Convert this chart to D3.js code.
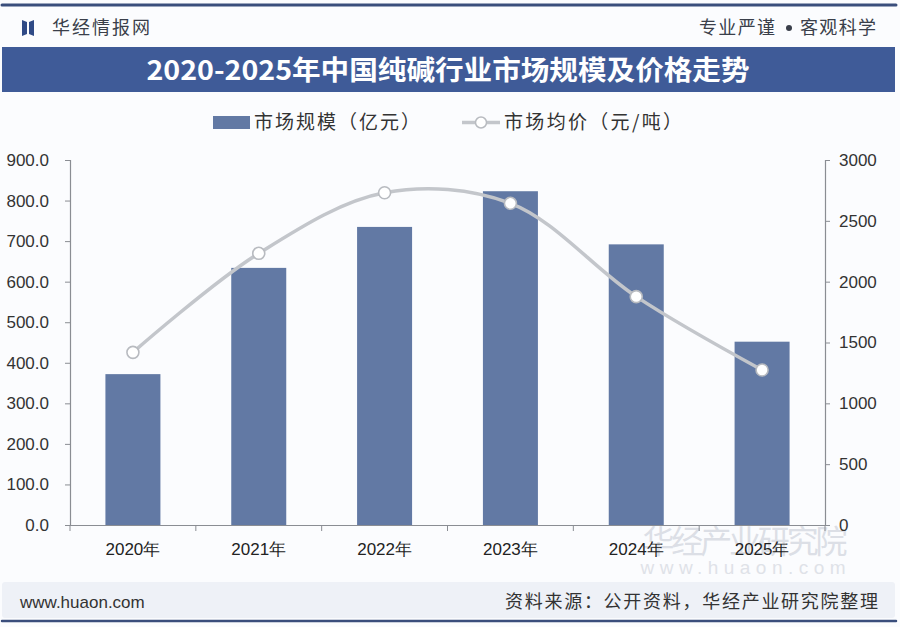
<!DOCTYPE html>
<html><head><meta charset="utf-8">
<script src="https://cdn.jsdelivr.net/npm/d3@7"></script>
<style>
html,body{margin:0;padding:0;background:#fff;}
svg{display:block;font-family:"Noto Sans CJK SC","Liberation Sans",sans-serif;}
</style></head>
<body>
<svg id="c" width="900" height="627"></svg>
<script>
const categories = ["2020年","2021年","2022年","2023年","2024年","2025年"];
const marketSize = [372, 634, 735, 823, 692, 452];      // 市场规模（亿元）
const avgPrice = [1419, 2233, 2731, 2644, 1877, 1274];   // 市场均价（元/吨）
const leftTicks = [0,100,200,300,400,500,600,700,800,900];
const rightTicks = [0,500,1000,1500,2000,2500,3000];
const title = "2020-2025年中国纯碱行业市场规模及价格走势";
const seriesNames = ["市场规模（亿元）","市场均价（元/吨）"];

const svg = d3.select("#c");
const W = 900, H = 627;
const barColor = "#6279a4", bandColor = "#3f5b98", navy = "#3a4e7c";
const lineColor = "#c3c6cb";

svg.append("rect").attr("width",W).attr("height",H).attr("fill","#fbfcfe");

// top line
svg.append("line").attr("x1",2).attr("x2",896).attr("y1",5).attr("y2",5)
  .attr("stroke",navy).attr("stroke-width",3).attr("stroke-linecap","round");

// logo
const logo = svg.append("g").attr("fill","#2f4a86");
logo.append("path").attr("d","M22,20 L27,22 L27,34 L22,36 Z");
logo.append("path").attr("d","M29,22 L34,20 L34,36 L29,34 Z");
svg.append("text").attr("x",52).attr("y",34).attr("font-size",18).attr("fill","#3a3f4a")
  .attr("textLength",98).text("华经情报网");
svg.append("text").attr("x",876).attr("y",34).attr("font-size",18).attr("fill","#3a3f4a")
  .attr("text-anchor","end").attr("textLength",76).text("客观科学");
svg.append("circle").attr("cx",789).attr("cy",28).attr("r",3).attr("fill","#3a3f4a");
svg.append("text").attr("x",699).attr("y",34).attr("font-size",18).attr("fill","#3a3f4a")
  .attr("textLength",76).text("专业严谨");

// title band
svg.append("rect").attr("x",2).attr("y",47).attr("width",893).attr("height",45).attr("fill",bandColor);
svg.append("text").attr("x",448).attr("y",80).attr("text-anchor","middle").attr("font-size",27)
  .attr("font-weight","bold").attr("fill","#fff").attr("textLength",603).attr("lengthAdjust","spacingAndGlyphs")
  .text(title);

// watermark
svg.append("text").attr("x",745).attr("y",553).attr("text-anchor","middle").attr("font-size",32)
  .attr("fill","#dcdfe6").attr("textLength",205).text("华经产业研究院");
svg.append("text").attr("x",743).attr("y",574).attr("text-anchor","middle").attr("font-size",19)
  .attr("fill","#dfe2e8").attr("textLength",205).attr("font-family","Liberation Sans").text("www.huaon.com");

// scales
const x0 = 70, x1 = 825, yTop = 160, yBot = 525;
const xc = d3.scaleBand().domain(categories).range([x0,x1]);
const yL = d3.scaleLinear().domain([0,900]).range([yBot,yTop]);
const yR = d3.scaleLinear().domain([0,3000]).range([yBot,yTop]);
const barW = 55;

// bars
svg.append("g").selectAll("rect").data(marketSize).join("rect")
  .attr("x",(d,i)=>xc(categories[i]) + xc.bandwidth()/2 - barW/2)
  .attr("width",barW)
  .attr("y",d=>yL(d)).attr("height",d=>yBot-yL(d)).attr("fill",barColor);

// left axis
const axL = svg.append("g").attr("transform",`translate(${x0},0)`)
  .call(d3.axisLeft(yL).tickValues(leftTicks).tickFormat(d3.format(".1f")).tickSize(5).tickPadding(16));
axL.select(".domain").attr("stroke","#8a8d93").attr("stroke-width",1.2);
axL.selectAll(".tick line").attr("stroke","#8a8d93");
axL.selectAll("text").attr("font-size",17).attr("fill","#333").attr("font-family","Liberation Sans");

// right axis
const axR = svg.append("g").attr("transform",`translate(${x1},0)`)
  .call(d3.axisRight(yR).tickValues(rightTicks).tickFormat(d3.format("d")).tickSize(5).tickPadding(9));
axR.select(".domain").attr("stroke","#8a8d93").attr("stroke-width",1.2);
axR.selectAll(".tick line").attr("stroke","#8a8d93");
axR.selectAll("text").attr("font-size",17).attr("fill","#333").attr("font-family","Liberation Sans");

// bottom axis
const axB = svg.append("g").attr("transform",`translate(0,${yBot})`)
  .call(d3.axisBottom(xc).tickSize(0).tickPadding(18));
axB.select(".domain").attr("stroke","#8a8d93").attr("stroke-width",1.2);
axB.selectAll("text").attr("font-size",17).attr("fill","#222");
const bounds = categories.map(c=>xc(c)).concat([x1]);
svg.append("g").selectAll("line").data(bounds).join("line")
  .attr("x1",d=>d).attr("x2",d=>d).attr("y1",yBot).attr("y2",yBot+6)
  .attr("stroke","#8a8d93");

// line
const pts = avgPrice.map((v,i)=>[xc(categories[i])+xc.bandwidth()/2, yR(v)]);
svg.append("path").attr("d", d3.line().curve(d3.curveCatmullRom.alpha(0.5))(pts))
  .attr("fill","none").attr("stroke",lineColor).attr("stroke-width",3.5);
svg.append("g").selectAll("circle").data(pts).join("circle")
  .attr("cx",d=>d[0]).attr("cy",d=>d[1]).attr("r",6)
  .attr("fill","#fff").attr("stroke","#b8bbc0").attr("stroke-width",1.6);

// legend
svg.append("rect").attr("x",213).attr("y",116).attr("width",37).attr("height",13).attr("fill",barColor);
svg.append("text").attr("x",254).attr("y",129).attr("font-size",19).attr("fill","#333")
  .attr("textLength",166).text(seriesNames[0]);
svg.append("line").attr("x1",462).attr("x2",500).attr("y1",122.5).attr("y2",122.5)
  .attr("stroke",lineColor).attr("stroke-width",3.5);
svg.append("circle").attr("cx",481).attr("cy",122.5).attr("r",5.5).attr("fill","#fff")
  .attr("stroke","#b8bbc0").attr("stroke-width",1.5);
svg.append("text").attr("x",504).attr("y",129).attr("font-size",19).attr("fill","#333")
  .attr("textLength",178).text(seriesNames[1]);

// footer
svg.append("rect").attr("x",2).attr("y",582).attr("width",893).attr("height",36).attr("rx",3).attr("fill","#eef1f7");
svg.append("text").attr("x",20).attr("y",608).attr("font-size",17).attr("fill","#333")
  .attr("font-family","Liberation Sans").text("www.huaon.com");
svg.append("text").attr("x",878).attr("y",608).attr("text-anchor","end").attr("font-size",18).attr("fill","#333")
  .attr("textLength",373).text("资料来源：公开资料，华经产业研究院整理");
svg.append("line").attr("x1",2).attr("x2",896).attr("y1",621).attr("y2",621)
  .attr("stroke",navy).attr("stroke-width",2.5).attr("stroke-linecap","round");
</script>
</body></html>
